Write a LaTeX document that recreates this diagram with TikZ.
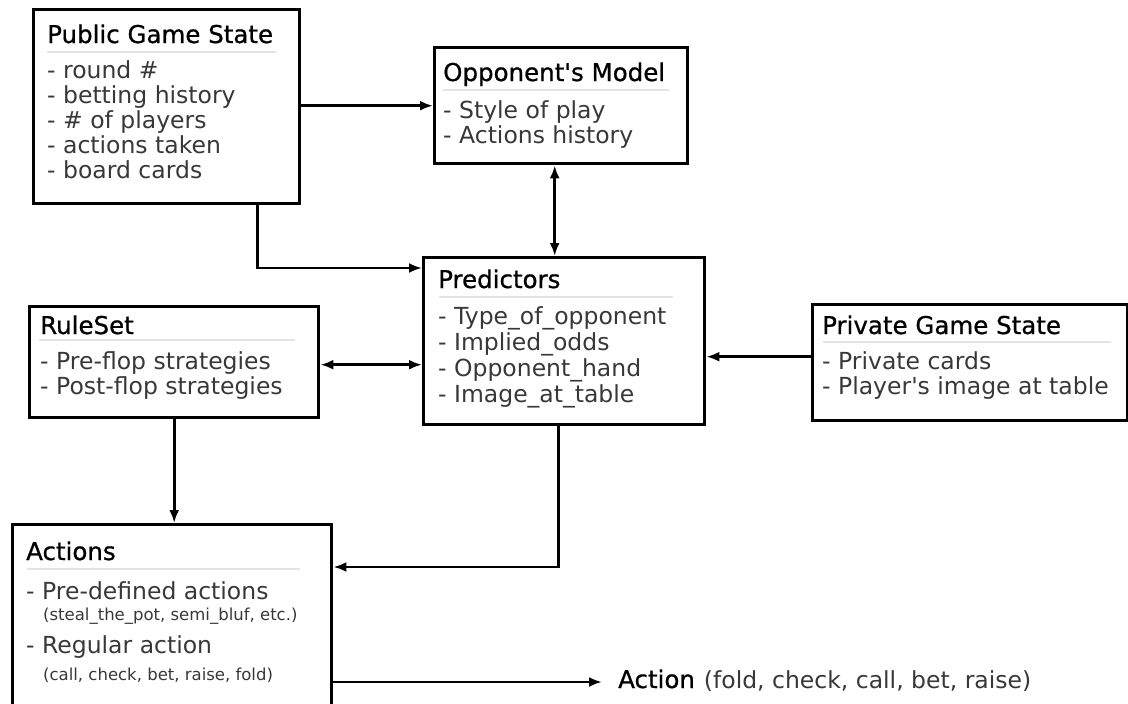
\documentclass[tikz,border=0pt]{standalone}
\usepackage{fontspec}
\setmainfont{DejaVu Sans}
\newfontface\headfont[FakeBold=0.8]{DejaVu Sans}
\usetikzlibrary{arrows.meta, positioning}
\definecolor{itemgray}{HTML}{383838}
\definecolor{rulegray}{HTML}{E4E4E4}
\tikzset{
  box/.style={draw, line width=3.4pt, anchor=north west, inner sep=0pt},
  head/.style={anchor=base west, inner sep=0pt, font=\headfont\fontsize{24.5}{25}\selectfont},
  item/.style={anchor=base west, inner sep=0pt, text=itemgray, font=\fontsize{23.5}{25}\selectfont},
  small/.style={anchor=base west, inner sep=0pt, text=itemgray, font=\fontsize{16.5}{18}\selectfont},
  sepline/.style={rulegray, line width=2pt},
  link/.style={line width=2.6pt, -{Latex[length=13pt,width=10pt]}},
  dlink/.style={line width=2.6pt, {Latex[length=13pt,width=10pt]}-{Latex[length=13pt,width=10pt]}}
}
\newcommand{\apos}{\textquotesingle}

\begin{document}
\begin{tikzpicture}[x=1pt, y=-1pt]
\clip (0,0) rectangle (1128,704);

% boxes
\node[box, minimum width=266pt, minimum height=194pt] (pub) at (32,8) {};
\node[box, minimum width=253pt, minimum height=116pt] (opp) at (433,46) {};
\node[box, minimum width=281pt, minimum height=167pt] (pred) at (422,256) {};
\node[box, minimum width=289pt, minimum height=111pt] (rules) at (28,305) {};
\node[box, minimum width=315pt, minimum height=116pt] (priv) at (811,303) {};
\node[box, minimum width=319pt, minimum height=200pt] (acts) at (11,523) {};

% public game state
\node[head] (pub-t) at (47,43) {Public Game State};
\draw[sepline] (47,52) -- (276,52);
\foreach \txt [count=\i] in {- round \#, - betting history, - \# of players, - actions taken, - board cards}
  \node[item] (pub-\i) at (47,53+25*\i) {\txt};

% opponent's model
\node[head] (opp-t) at (443,81) {Opponent\apos s Model};
\draw[sepline] (443,90) -- (669,90);
\foreach \txt [count=\i] in {- Style of play, - Actions history}
  \node[item] (opp-\i) at (443,93+25*\i) {\txt};

% predictors
\node[head] (pred-t) at (438,288) {Predictors};
\draw[sepline] (439,297) -- (673,297);
\foreach \txt [count=\i] in {- Type\_of\_opponent, - Implied\_odds, - Opponent\_hand, - Image\_at\_table}
  \node[item] (pred-\i) at (438,298+26*\i) {\txt};

% ruleset
\node[head] (rules-t) at (40,334) {RuleSet};
\draw[sepline] (39,340) -- (295,340);
\foreach \txt [count=\i] in {- Pre-flop strategies, - Post-flop strategies}
  \node[item] (rules-\i) at (40,344+25*\i) {\txt};

% private game state
\node[head] (priv-t) at (822,334) {Private Game State};
\draw[sepline] (823,342) -- (1111,342);
\foreach \txt [count=\i] in {- Private cards, - Player\apos s image at table}
  \node[item] (priv-\i) at (822,344+25*\i) {\txt};

% actions
\node[head] (acts-t) at (26,560) {Actions};
\draw[sepline] (27,569) -- (300,569);
\node[item] (acts-1) at (26,599) {- Pre-defined actions};
\node[small] (acts-1a) at (43,620) {(steal\_the\_pot, semi\_bluf, etc.)};
\node[item] (acts-2) at (26,653) {- Regular action};
\node[small] (acts-2a) at (43,680) {(call, check, bet, raise, fold)};

\node[anchor=base west, inner sep=0pt, inner xsep=16pt] (result) at (602,688)
  {{\headfont\fontsize{24.5}{25}\selectfont Action}\hspace{9pt}\textcolor{itemgray}{\fontsize{23.5}{25}\selectfont(fold, check, call, bet, raise)}};

% connectors
\draw[link] (opp.west -| pub.east) -- (opp.west);
\draw[link] ([xshift=91pt]pub.south) |- ([yshift=-12pt]pred.north west);
\draw[dlink] ([xshift=-6.5pt]opp.south) -- ([xshift=-6.5pt]opp.south |- pred.north);
\draw[dlink] ([yshift=-2.5pt]rules.east) -- ([yshift=-2.5pt]rules.east -| pred.west);
\draw[link] ([yshift=6pt]priv.west) -- ([yshift=6pt]priv.west -| pred.east);
\draw[link] (rules.south) -- (rules.south |- acts.north);
\draw[link] ([xshift=-5.5pt]pred.south) |- ([yshift=-44pt]acts.north east);
\draw[link] ([yshift=-159pt]acts.north east) -- ([yshift=-159pt]acts.north east -| result.west);
\end{tikzpicture}
\end{document}
